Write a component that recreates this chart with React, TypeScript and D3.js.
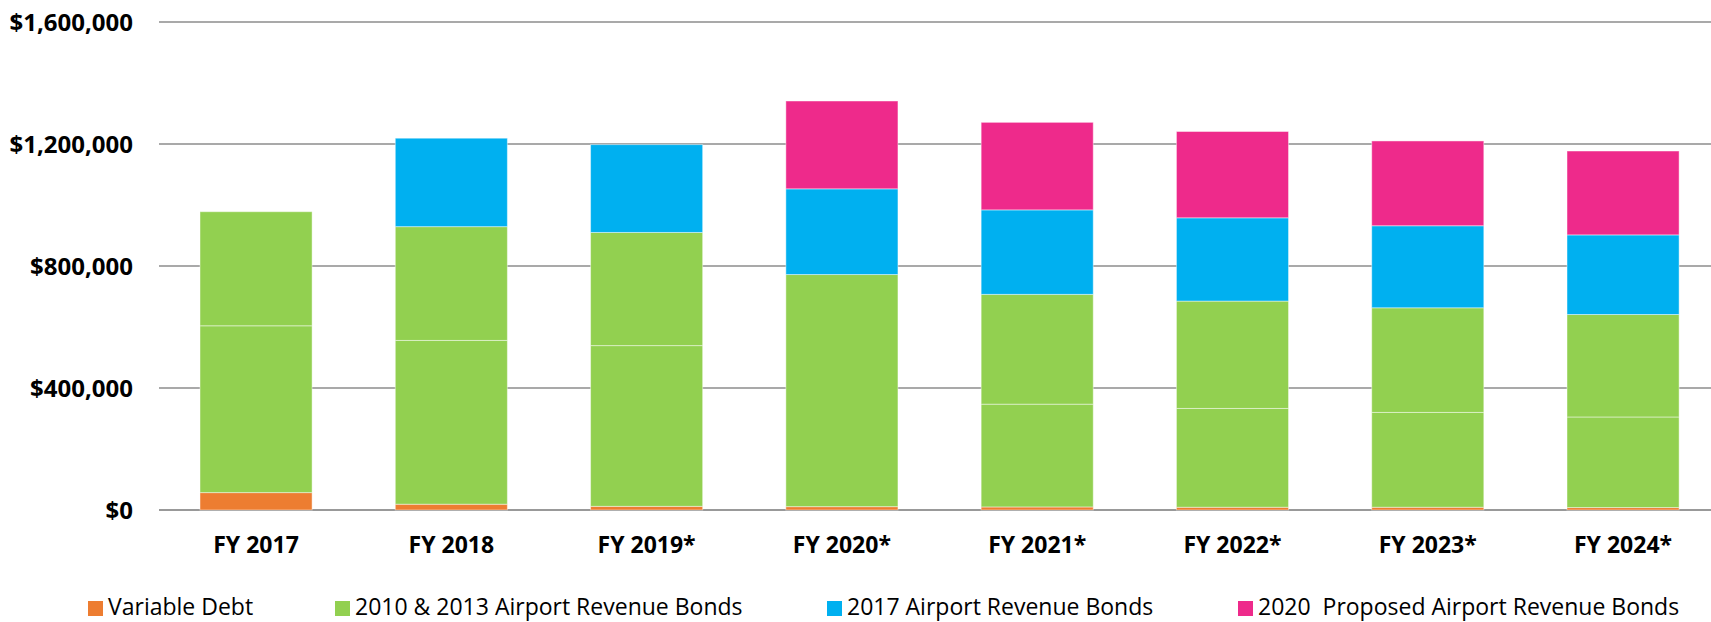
import * as d3 from 'd3';

const years = ['FY 2017', 'FY 2018', 'FY 2019*', 'FY 2020*', 'FY 2021*', 'FY 2022*', 'FY 2023*', 'FY 2024*'];

// values, in dollars
const variableDebt = [57000, 19000, 12000, 11000, 10000, 9000, 9000, 8000];
const bonds2010 = [547000, 537000, 527000, 761000, 337000, 324000, 311000, 297000];
const bonds2013 = [374000, 373000, 371000, 0, 360000, 352000, 343000, 336000];
const bonds2017 = [0, 290000, 288000, 281000, 277000, 273000, 269000, 261000];
const bonds2020 = [0, 0, 0, 288000, 287000, 283000, 278000, 275000];

const yTicks = [0, 400000, 800000, 1200000, 1600000];

const seriesKeys = ['variable', 'b2010', 'b2013', 'b2017', 'b2020'];
const seriesColors = ['#ED7D31', '#92D050', '#92D050', '#00B0F0', '#EE2A8B'];

const legendLabels = ['Variable Debt', '2010 & 2013 Airport Revenue Bonds', '2017 Airport Revenue Bonds', '2020  Proposed Airport Revenue Bonds'];
const legendColors = ['#ED7D31', '#92D050', '#00B0F0', '#EE2A8B'];

const W = 1711;
const H = 622;
const font = "'Open Sans', sans-serif";

export default function App() {
  const rows = years.map((yr, i) => ({
    year: yr,
    variable: variableDebt[i],
    b2010: bonds2010[i],
    b2013: bonds2013[i],
    b2017: bonds2017[i],
    b2020: bonds2020[i],
  }));

  const stacked = d3.stack<any>().keys(seriesKeys)(rows);

  const x = d3.scaleBand().domain(years).range([158.4, 1720.7]).paddingInner(0.426).paddingOuter(0.213);
  const y = d3.scaleLinear().domain([0, 1600000]).range([510, 22]);
  const fmt = (v: number) => '$' + d3.format(',')(v);

  const legendX = [88, 335, 827, 1238];

  return (
    <>
      <style>{'body{margin:0}'}</style>
      <svg width={W} height={H} style={{ display: 'block', background: '#fff' }}>
        {/* gridlines */}
        {yTicks.map((t) => (
          <line key={t} x1={159} x2={W} y1={y(t)} y2={y(t)} stroke={t === 0 ? '#999' : '#8c8c8c'} strokeWidth={t === 0 ? 2.2 : 1.6} />
        ))}

        {/* stacked bars */}
        {stacked.map((s, si) => (
          <g key={s.key} fill={seriesColors[si]}>
            {s.map((d, i) =>
              d[1] - d[0] > 0 ? (
                <rect
                  key={i}
                  x={x(years[i])}
                  y={y(d[1])}
                  width={x.bandwidth()}
                  height={y(d[0]) - y(d[1])}
                  stroke="#fff"
                  strokeOpacity={0.45}
                  strokeWidth={1}
                />
              ) : null
            )}
          </g>
        ))}

        {/* y axis labels */}
        {yTicks.map((t) => (
          <text key={t} x={133} y={y(t)} dy="0.36em" textAnchor="end" fontFamily={font} fontWeight={700} fontSize={24} fill="#000">
            {fmt(t)}
          </text>
        ))}

        {/* x axis labels */}
        {years.map((yr) => (
          <text key={yr} x={(x(yr) ?? 0) + x.bandwidth() / 2} y={553} textAnchor="middle" fontFamily={font} fontWeight={700} fontSize={23} fill="#000">
            {yr}
          </text>
        ))}

        {/* legend */}
        {legendLabels.map((l, i) => (
          <g key={l}>
            <rect x={legendX[i]} y={601} width={15} height={15} fill={legendColors[i]} />
            <text x={legendX[i] + 20} y={615} fontFamily={font} fontSize={23} fill="#000" style={{ whiteSpace: 'pre' }}>
              {l}
            </text>
          </g>
        ))}
      </svg>
    </>
  );
}
